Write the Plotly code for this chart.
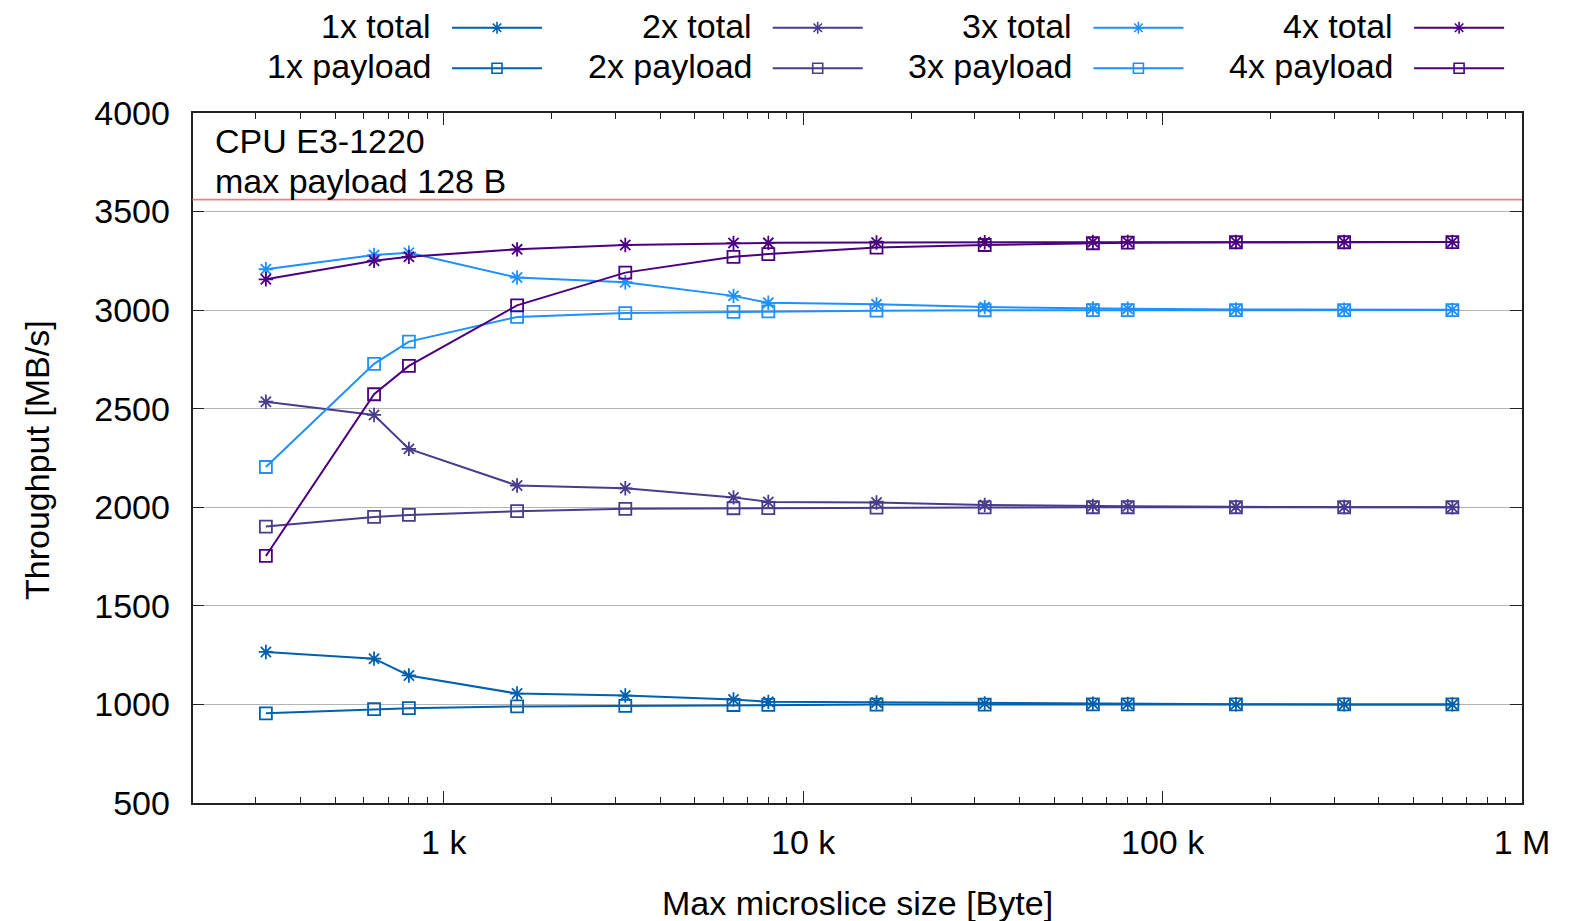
import plotly.graph_objects as go

# ---------------- data ----------------
sizes = [320, 640, 800, 1600, 3200, 6400, 8000, 16000, 32000, 64000, 80000, 160000, 320000, 640000]

total_1x = [1266, 1232, 1147, 1055, 1045, 1025, 1013, 1010, 1005, 1003, 1002, 1001, 1000, 1000]
payload_1x = [955, 976, 981, 990, 993, 997, 998, 999, 999, 1000, 1000, 1000, 1000, 1000]
total_2x = [2535, 2468, 2296, 2110, 2096, 2050, 2027, 2024, 2012, 2006, 2005, 2002, 2001, 2000]
payload_2x = [1902, 1951, 1961, 1980, 1992, 1995, 1996, 1998, 1999, 2000, 2000, 2000, 2000, 2000]
total_3x = [3207, 3279, 3291, 3165, 3141, 3072, 3037, 3029, 3015, 3008, 3007, 3003, 3002, 3001]
payload_3x = [2204, 2727, 2840, 2965, 2985, 2991, 2993, 2997, 2999, 3000, 3000, 3000, 3000, 3000]
total_4x = [3156, 3250, 3270, 3308, 3330, 3340, 3341, 3343, 3344, 3345, 3345, 3345, 3345, 3345]
payload_4x = [1753, 2573, 2717, 3024, 3190, 3270, 3284, 3317, 3330, 3339, 3342, 3344, 3344, 3345]

limit_value = 3560

series_names = ["1x", "2x", "3x", "4x"]
series_totals = [total_1x, total_2x, total_3x, total_4x]
series_payloads = [payload_1x, payload_2x, payload_3x, payload_4x]
series_colors = ["#0060ad", "#483d8b", "#1e90ff", "#4b0082"]

y_ticks = [500, 1000, 1500, 2000, 2500, 3000, 3500, 4000]
x_ticks = [1000, 10000, 100000, 1000000]
x_ticktext = ["1 k", "10 k", "100 k", "1 M"]
x_minor = [m * 10 ** e for e in range(2, 6) for m in range(2, 10)]

# ---------------- layout helpers ----------------
W, H = 1580, 921
FONT = "Liberation Sans, Arial, Helvetica, sans-serif"
FS = 34
L, R, T, B = 192.5, 1522.0, 112.9, 803.0


def px(x):
    return x / W


def py(y):
    return 1 - y / H


fig = go.Figure()

for name, tot, pay, col in zip(series_names, series_totals, series_payloads, series_colors):
    fig.add_trace(go.Scatter(
        x=sizes, y=tot, mode="lines+markers", name=f"{name} total",
        line=dict(color=col, width=2),
        marker=dict(symbol="asterisk-open", size=12, color=col, line=dict(color=col, width=1.8)),
        showlegend=False,
    ))
    fig.add_trace(go.Scatter(
        x=sizes, y=pay, mode="lines+markers", name=f"{name} payload",
        line=dict(color=col, width=2),
        marker=dict(symbol="square-open", size=12, color=col, line=dict(color=col, width=1.8)),
        showlegend=False,
    ))

# ---------------- custom legend (text left, sample right) ----------------
annotations = []
col_right0 = 433
col_step = 320.7
row_text_y = [26, 66]
row_line_y = [27.7, 68.3]
for i, (name, col) in enumerate(zip(series_names, series_colors)):
    xr = col_right0 + col_step * i
    for j, (label, sym) in enumerate([("total", "asterisk-open"), ("payload", "square-open")]):
        annotations.append(dict(
            x=px(xr), y=py(row_text_y[j]), xref="paper", yref="paper",
            text=f"{name} {label}", showarrow=False, xanchor="right", yanchor="middle",
            font=dict(family=FONT, size=FS, color="black"),
        ))
        x0, x1 = xr + 19, xr + 109
        fig.add_trace(go.Scatter(
            x=[x0, (x0 + x1) / 2, x1], y=[row_line_y[j]] * 3, xaxis="x2", yaxis="y2",
            mode="lines", line=dict(color=col, width=2), showlegend=False, hoverinfo="skip",
        ))
        fig.add_trace(go.Scatter(
            x=[(x0 + x1) / 2], y=[row_line_y[j]], xaxis="x2", yaxis="y2",
            mode="markers", showlegend=False, hoverinfo="skip",
            marker=dict(symbol=sym, size=10, color=col, line=dict(color=col, width=1.6)),
        ))

# in-plot labels
annotations.append(dict(x=px(213), y=py(141), xref="paper", yref="paper", text="CPU E3-1220",
                        showarrow=False, xanchor="left", yanchor="middle",
                        font=dict(family=FONT, size=FS, color="black")))
annotations.append(dict(x=px(213), y=py(181), xref="paper", yref="paper", text="max payload 128 B",
                        showarrow=False, xanchor="left", yanchor="middle",
                        font=dict(family=FONT, size=FS, color="black")))
# axis titles
annotations.append(dict(x=px(37), y=py(460), xref="paper", yref="paper", text="Throughput [MB/s]",
                        showarrow=False, xanchor="center", yanchor="middle", textangle=-90,
                        font=dict(family=FONT, size=FS, color="black")))
annotations.append(dict(x=px(857), y=py(903), xref="paper", yref="paper", text="Max microslice size [Byte]",
                        showarrow=False, xanchor="center", yanchor="middle",
                        font=dict(family=FONT, size=FS, color="black")))

shapes = [dict(type="line", xref="paper", x0=px(L), x1=px(R), yref="y", y0=limit_value, y1=limit_value,
               line=dict(color="#f08080", width=1.6), layer="above")]

fig.update_layout(
    width=W, height=H,
    margin=dict(l=0, r=0, t=0, b=0),
    paper_bgcolor="white", plot_bgcolor="rgba(0,0,0,0)",
    font=dict(family=FONT, size=FS, color="black"),
    annotations=annotations, shapes=shapes,
    xaxis=dict(
        type="log", domain=[px(L), px(R)], range=[2.30103, 6.0], anchor="y",
        tickvals=x_ticks, ticktext=x_ticktext, ticks="inside", ticklen=12, tickwidth=1.2,
        tickcolor="#222", showline=True, linecolor="#222", linewidth=1.5, mirror="allticks",
        showgrid=False, zeroline=False, automargin=False, ticklabelstandoff=8,
        tickfont=dict(family=FONT, size=FS, color="black"),
        minor=dict(tickvals=x_minor, ticks="inside", ticklen=6, tickwidth=1, tickcolor="#222", showgrid=False),
    ),
    yaxis=dict(
        domain=[py(B), py(T)], range=[500, 4000], anchor="x",
        tickvals=y_ticks, ticks="inside", ticklen=12, tickwidth=1.2, tickcolor="#222",
        showline=True, linecolor="#222", linewidth=1.5, mirror="allticks",
        showgrid=True, gridcolor="#b4b4b4", gridwidth=1.2, zeroline=False, automargin=False,
        ticklabelstandoff=14, tickfont=dict(family=FONT, size=FS, color="black"),
    ),
    xaxis2=dict(domain=[0, 1], range=[0, W], anchor="y2", visible=False, fixedrange=True),
    yaxis2=dict(domain=[0, 1], range=[H, 0], anchor="x2", visible=False, fixedrange=True),
)

fig.write_html(
    "out.html",
    config={"displayModeBar": False},
    post_script="document.body.style.margin='0px';document.body.style.overflow='hidden';",
)
